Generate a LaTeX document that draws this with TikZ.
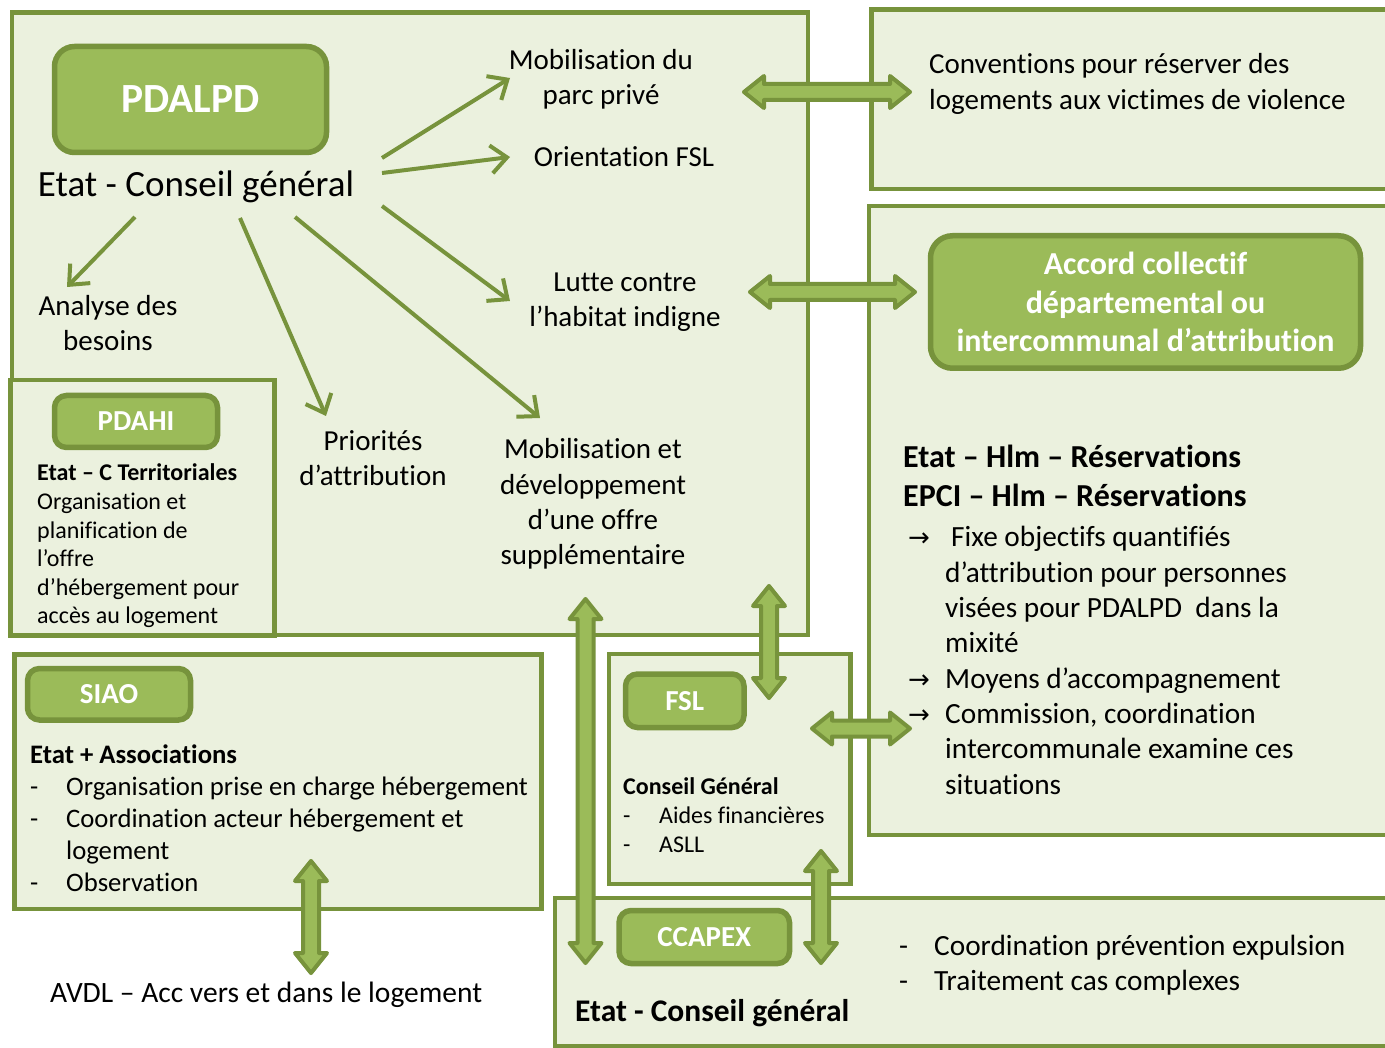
\documentclass[tikz,border=0pt]{standalone}
\usepackage{fontspec}
\setmainfont{Carlito}[Ligatures=NoCommon]
\newfontfamily\symfont{DejaVu Sans}
\usetikzlibrary{arrows.meta}
\definecolor{dkgreen}{HTML}{77933C}
\definecolor{midgreen}{HTML}{9BBB59}
\definecolor{ltgreen}{HTML}{EBF1DE}
\tikzset{
  box/.style={draw=dkgreen, fill=ltgreen, line width=4.5pt, rectangle, inner sep=0pt},
  lbl/.style={draw=dkgreen, fill=midgreen, line width=5.5pt, rectangle, rounded corners=12pt,
    text=white, font=\bfseries\fontsize{29}{34}\selectfont, inner sep=0pt, align=center},
  txt/.style={font=\fontsize{29}{35.3}\selectfont, align=center, inner sep=0pt},
  ltxt/.style={inner sep=0pt, anchor=base west},
  thinarrow/.style={draw=dkgreen, line width=4pt, -{Straight Barb[length=16pt,width=28pt]}},
  blockarrow/.style={draw=dkgreen, fill=midgreen, line width=4pt, line join=round},
  pics/dblarrow/.style={code={
    \pgfmathsetmacro\halfL{#1/2}
    \draw[blockarrow] (-\halfL,0) -- (-\halfL+20,-16) -- (-\halfL+20,-8) -- (\halfL-20,-8)
      -- (\halfL-20,-16) -- (\halfL,0) -- (\halfL-20,16) -- (\halfL-20,8)
      -- (-\halfL+20,8) -- (-\halfL+20,16) -- cycle;
  }},
}
\begin{document}
\begin{tikzpicture}[x=1pt,y=-1pt]
\clip (0,0) rectangle (1385,1048);
\fill[white] (0,0) rectangle (1385,1048);

% ---------- boxes ----------
\node[box, minimum width=796, minimum height=622.5] (bigA) at (410,323.75) {};
\node[box, minimum width=264, minimum height=255.5] (pdahiBox) at (142.5,507.75) {};
\node[box, minimum width=527, minimum height=254.5] (siaoBox) at (278,781.75) {};
\node[box, minimum width=241.5, minimum height=230] (fslBox) at (729.75,769) {};
\node[box, minimum width=845, minimum height=148] (ccapexBox) at (977.5,972) {};
\node[box, minimum width=528.5, minimum height=179.5] (topR) at (1135.75,99.25) {};
\node[box, minimum width=531, minimum height=629] (rightM) at (1134.5,520.5) {};

% ---------- label boxes ----------
\node[lbl, rounded corners=20pt, font=\bfseries\fontsize{41.5}{48}\selectfont,
      minimum width=272, minimum height=106] (pdalpd) at (190.5,99.5) {PDALPD};
\node[lbl, minimum width=163, minimum height=52] (pdahi) at (136,421.5) {PDAHI};
\node[lbl, rounded corners=22pt, font=\bfseries\fontsize{32}{38.5}\selectfont,
      minimum width=430, minimum height=132.5] (accord) at (1145.5,302)
      {Accord collectif\\départemental ou\\intercommunal d’attribution};
\node[lbl, minimum width=163, minimum height=51.5] (siao) at (109,694.25) {SIAO};
\node[lbl, minimum width=118.5, minimum height=53.5] (fsl) at (684.75,700.75) {FSL};
\node[lbl, minimum width=170.5, minimum height=53] (ccapex) at (704.25,937) {CCAPEX};

% ---------- texts ----------
\node[txt, font=\fontsize{37}{42}\selectfont] (etat) at (196,187) {Etat - Conseil général};
\node[txt] (mob) at (601,79) {Mobilisation du\\parc privé};
\node[txt] (ofsl) at (624,157) {Orientation FSL};
\node[txt] (lutte) at (625,302.5) {Lutte contre\\l’habitat indigne};
\node[txt] (analyse) at (108,323) {Analyse des\\besoins};
\node[txt] (prio) at (373,458) {Priorités\\d’attribution};
\node[txt] (offre) at (593,504) {Mobilisation et\\développement\\d’une offre\\supplémentaire};

\node[ltxt, font=\fontsize{29}{36}\selectfont] (conv) at (929,74)
  {\begin{tabular}[t]{@{}l@{}}Conventions pour réserver des\\logements aux victimes de violence\end{tabular}};

\node[ltxt, font=\bfseries\fontsize{32}{39}\selectfont] (hlm) at (903,468)
  {\begin{tabular}[t]{@{}l@{}}Etat – Hlm – Réservations\\EPCI – Hlm – Réservations\end{tabular}};

\node[ltxt, font=\fontsize{29.3}{35.3}\selectfont] (liste) at (908,547)
  {\begin{tabular}[t]{@{}p{37pt}@{}l@{}}
   {\symfont\fontsize{26}{26}\selectfont →} & \hspace*{6pt}Fixe objectifs quantifiés\\
   & d’attribution pour personnes\\
   & visées pour PDALPD\ \ dans la\\
   & mixité\\
   {\symfont\fontsize{26}{26}\selectfont →} & Moyens d’accompagnement\\
   {\symfont\fontsize{26}{26}\selectfont →} & Commission, coordination\\
   & intercommunale examine ces\\
   & situations
  \end{tabular}};

\node[ltxt, font=\fontsize{24}{28.6}\selectfont] (pdahitxt) at (37,481)
  {\begin{tabular}[t]{@{}l@{}}\textbf{Etat – C Territoriales}\\Organisation et\\planification de\\l’offre\\d’hébergement pour\\accès au logement\end{tabular}};

\node[ltxt, font=\fontsize{26.7}{32}\selectfont] (siaotxt) at (30,763)
  {\begin{tabular}[t]{@{}p{36pt}@{}l@{}}
   \multicolumn{2}{@{}l@{}}{\textbf{Etat + Associations}}\\
   - & Organisation prise en charge hébergement\\
   - & Coordination acteur hébergement et\\
   & logement\\
   - & Observation
  \end{tabular}};

\node[ltxt, font=\fontsize{24}{29}\selectfont] (fsltxt) at (623,794)
  {\begin{tabular}[t]{@{}p{36pt}@{}l@{}}
   \multicolumn{2}{@{}l@{}}{\textbf{Conseil Général}}\\
   - & Aides financières\\
   - & ASLL
  \end{tabular}};

\node[ltxt, font=\fontsize{29.3}{35}\selectfont] (ccapextxt) at (899,955)
  {\begin{tabular}[t]{@{}p{35pt}@{}l@{}}
   - & Coordination prévention expulsion\\
   - & Traitement cas complexes
  \end{tabular}};
\node[ltxt, font=\bfseries\fontsize{31.5}{36}\selectfont] (ccapexetat) at (575,1021) {Etat - Conseil général};

\node[ltxt, font=\fontsize{29.5}{35}\selectfont] (avdl) at (50,1002) {AVDL – Acc vers et dans le logement};

% ---------- thin arrows ----------
\coordinate (s1) at (382,158); \coordinate (t1) at (510,78);
\coordinate (s2) at (382,173); \coordinate (t2) at (510,157);
\coordinate (s3) at (382,206); \coordinate (t3) at (510,301);
\coordinate (s4) at (295,217); \coordinate (t4) at (540,418);
\coordinate (s5) at (240,218); \coordinate (t5) at (326,416);
\coordinate (s6) at (135,217); \coordinate (t6) at (67,287);
\draw[thinarrow] (s1) -- (t1);
\draw[thinarrow] (s2) -- (t2);
\draw[thinarrow] (s3) -- (t3);
\draw[thinarrow] (s4) -- (t4);
\draw[thinarrow] (s5) -- (t5);
\draw[thinarrow] (s6) -- (t6);

% ---------- block double arrows ----------
\pic (a1) at (827,92) {dblarrow=166};
\pic (a2) at (832.5,292) {dblarrow=165};
\pic[rotate=90] (a3) at (769,642) {dblarrow=112};
\pic (a4) at (861,728.5) {dblarrow=98};
\pic[rotate=90] (a5) at (585.5,781) {dblarrow=364};
\pic[rotate=90] (a6) at (821,907) {dblarrow=112};
\pic[rotate=90] (a7) at (311,917) {dblarrow=112};
\end{tikzpicture}
\end{document}
